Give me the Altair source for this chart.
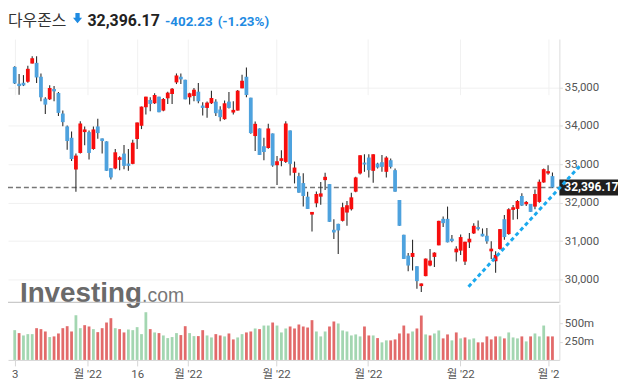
import altair as alt
import pandas as pd

# ---------------- data ----------------
opens = [35535,35096,35121,35147,35621,35639,35277,34708,34690,34958,
         34854,34320,33984,33690,32863,33294,33837,33837,33397,33984,
         33673,33596,32897,32889,33113,33277,33018,33010,33656,34001,
         34484,34673,34587,34759,34397,34716,34828,35130,35277,35199,
         34742,34777,34889,34527,34466,34587,34630,34423,34173,34630,
         34346,34397,34975,35277,34733,33734,33932,33466,33423,33802,
         32975,33087,33061,33880,32777,32691,32510,32156,31690,31984,
         32156,32587,32484,31294,31449,31527,31743,31829,32286,32760,
         33044,33174,32829,33019,33053,32803,33105,32846,32070,31165,
         30622,30588,30346,29829,30088,30364,30588,30889,31579,31579,
         31062,30708,30751,30467,30967,31200,31364,31191,31139,30734,
         30476,30795,31570,31183,31812,31838,32174,31958,31967,31898,
         32019,32527,32760,32691]
highs = [35550,35346,35320,35561,35811,35811,35363,34742,35053,35035,
         34880,34397,34009,33854,33277,34122,33984,33880,33984,34182,
         33673,33596,32897,33398,33208,33501,33398,33639,34087,34501,
         34759,34742,34846,34759,34725,34889,34984,35363,35363,35199,
         34863,34984,35113,34613,34630,34915,34690,34509,34656,34880,
         34639,34932,35328,35518,34733,34113,33932,33690,34053,33802,
         33216,33363,34122,33880,33070,32777,32768,32285,31759,32294,
         32535,32777,32484,31570,31449,32001,32045,32260,32674,33234,
         33260,33260,33260,33036,33243,33208,33148,32889,32070,31165,
         30691,31036,30346,29898,30545,30795,30708,31527,31639,31898,
         31157,30864,31174,30984,31208,31467,31536,31329,31338,30993,
         30734,31312,31682,31855,31941,32070,32243,32044,31967,32346,
         32605,32889,32975,32786]
lows = [35090,34811,35035,35121,35621,35113,34639,34311,34673,34639,
        34259,33992,33380,33087,32286,33277,33492,33121,33380,33665,
        33277,32829,32604,32872,32846,32872,32829,33001,33398,33915,
        34294,34380,34570,34354,34380,34570,34570,35087,35087,34690,
        34553,34639,34587,34268,34208,34570,34259,34122,34156,34449,
        34294,34397,34975,34742,33794,33346,33242,33104,33406,32932,
        32458,32949,33035,32707,32501,32260,31898,31837,31251,31880,
        31949,32328,31501,31053,30665,31510,31398,31795,32269,32734,
        32803,32657,32519,32889,32803,32657,32889,32286,31398,30536,
        30217,30234,29760,29674,30088,30346,30329,30889,31364,30967,
        30967,30467,30639,30381,30820,31183,31277,31122,30933,30536,
        30174,30778,31036,31165,31553,31570,31915,31915,31760,31829,
        32001,32519,32726,32380]
closes = [35104,35035,35052,35484,35759,35259,34742,34552,34984,34897,
          34337,34096,33604,33139,33225,34061,33906,33294,33906,33811,
          33604,32829,32656,33311,33182,32958,32958,33561,34087,34501,
          34759,34570,34802,34354,34699,34863,34966,35311,35208,34690,
          34846,34940,34639,34466,34604,34725,34328,34225,34587,34466,
          34415,34915,35173,34802,33811,34052,33242,33320,33932,32966,
          33078,33156,34061,33010,32914,32260,32173,31837,31759,32225,
          32242,32673,31501,31225,31277,31881,31933,32139,32657,33234,
          32993,32846,33260,32915,32932,33174,32932,32286,31398,30536,
          30364,30691,29958,29898,30545,30493,30700,31527,31467,30967,
          31001,30803,31105,30984,31062,31398,31312,31122,30993,30803,
          30640,31312,31105,31829,31881,32044,31924,32019,31760,32226,
          32544,32872,32820,32396.17]
# volume in millions, and its colour flag (u = green, d = red)
volumes = [405,365,333,351,351,432,419,387,311,320,
           360,432,459,387,608,432,473,455,419,378,
           432,509,568,432,419,374,414,405,446,351,
           649,419,374,365,333,297,311,365,338,459,
           365,324,324,405,333,306,351,333,320,360,
           279,306,351,374,387,428,419,468,468,509,
           468,374,428,455,428,482,455,441,541,387,
           320,387,455,523,496,401,387,333,347,320,
           455,333,333,297,239,266,266,279,360,468,
           360,387,428,604,347,333,360,401,293,347,
           266,374,293,306,279,293,239,239,320,279,
           320,320,293,374,306,293,320,252,320,360,
           320,468,320,320]
vol_dir = list("uduuudddud" "dddduuddud" "dddudduuuu" "ududuuuudd"
               "uudduuddud" "duudduduud" "uuuddddddu" "uudduuuuuu"
               "dduduudddd" "dudduduudd" "ududuudddd" "duduuududu" "uudd")

tick_pos = [0, 16.6, 28, 39.6, 59.8, 80.8, 101.9, 122]
tick_text = ["3", "월 '22", "16", "월 '22", "월 '22", "월 '22", "월 '22", "월 '2"]
price_ticks = [30000, 31000, 32000, 33000, 34000, 35000]
vol_ticks = [250, 500]
trend_x = [103.8, 129.2]
trend_y = [29812, 32949]

name = "다우존스"
last_close = 32396.17
change = -402.23
change_pct = -1.23

# ---------------- layout / style ----------------
W = 555
H = 323
PRICE_PX = 265
VOL_TOP = 267
x_domain = [-0.4, 123.45]
price_domain = [29407, 36259]
vol_domain = [0, 757]
BOX_HALF = 8 * (price_domain[1] - price_domain[0]) / PRICE_PX

RED = "#f70d0d"
BLUE = "#4ea2de"
VGREEN = "#a3d6b1"
VRED = "#e26a6a"
TBLUE = "#1f8be2"
FONT = "Roboto"

df = pd.DataFrame({"i": list(range(len(closes))), "o": opens, "h": highs,
                   "l": lows, "c": closes, "v": volumes, "d": vol_dir})

label_expr = " : ".join(
    f'abs(datum.value - {v}) < 0.01 ? "{t}"' for v, t in zip(tick_pos, tick_text)
) + ' : ""'

x_scale = alt.Scale(domain=x_domain, nice=False, zero=False)
x_axis = alt.Axis(values=tick_pos, labelExpr=label_expr, grid=True,
                  gridColor="#f1f1f1", domainColor="#d6d6d6", tickColor="#d6d6d6",
                  tickSize=6, labelPadding=3, labelFont=f"{FONT}, 'Noto Sans CJK KR'",
                  labelFontSize=11.5, labelColor="#555555", title=None,
                  labelOverlap=False, labelFlush=False)
p_scale = alt.Scale(domain=price_domain, range=[PRICE_PX, 0], nice=False, zero=False)
p_axis = alt.Axis(orient="right", values=price_ticks, format=",d", grid=True,
                  gridColor="#f1f1f1", domainColor="#dcdcdc", tickColor="#dcdcdc",
                  tickSize=3, labelPadding=2, labelFont=FONT, labelFontSize=11.5,
                  labelColor="#555555", title=None)
v_scale = alt.Scale(domain=vol_domain, range=[H, VOL_TOP], nice=False)
v_axis = alt.Axis(orient="right", values=vol_ticks, labelExpr="datum.value + 'm'",
                  grid=False, domainColor="#dcdcdc", tickColor="#dcdcdc",
                  tickSize=3, labelPadding=2, labelFont=FONT, labelFontSize=11.5,
                  labelColor="#555555", title=None)

X = alt.X("i:Q", scale=x_scale, axis=x_axis)

one = pd.DataFrame([{"c": last_close}])

watermark1 = alt.Chart(one).mark_text(
    text="Investing", font="Liberation Sans", fontWeight="bold", fontSize=28,
    align="left", baseline="alphabetic", color="#6a6a6a"
).encode(x=alt.value(12), y=alt.value(PRICE_PX))
watermark2 = alt.Chart(one).mark_text(
    text=".com", font="Liberation Sans", fontSize=19.5,
    align="left", baseline="alphabetic", color="#777777"
).encode(x=alt.value(135), y=alt.value(PRICE_PX))

separator = alt.Chart(one).mark_rule(color="#bcbcbc", strokeWidth=1).encode(
    x=alt.value(0), x2=alt.value(W), y=alt.value(PRICE_PX))

dashed = alt.Chart(one).mark_rule(color="#777777", strokeWidth=1.5, strokeDash=[5, 3]).encode(
    x=alt.value(0), x2=alt.value(W), y=alt.Y("c:Q", scale=p_scale, axis=p_axis))

wicks = alt.Chart(df).mark_rule(color="#2e2e2e", strokeWidth=1.1).encode(
    x=X, y=alt.Y("l:Q", scale=p_scale, axis=p_axis), y2="h:Q")

bodies = alt.Chart(df).mark_bar(size=3.8).encode(
    x=X, y=alt.Y("o:Q", scale=p_scale, axis=p_axis), y2="c:Q",
    color=alt.condition("datum.c > datum.o", alt.value(RED), alt.value(BLUE)))

box = alt.Chart(one).transform_calculate(
    top=f"datum.c + {BOX_HALF}", bot=f"datum.c - {BOX_HALF}"
).mark_rect(color="#1f1f1f").encode(
    x=alt.value(W), x2=alt.value(W + 59),
    y=alt.Y("top:Q", scale=p_scale, axis=p_axis), y2="bot:Q")

box_text = alt.Chart(one).mark_text(
    text=f"{last_close:,.2f}", color="white", font=FONT, fontWeight="bold",
    fontSize=12, align="left", baseline="middle"
).encode(x=alt.value(W + 5), y=alt.Y("c:Q", scale=p_scale, axis=p_axis))

trend_df = pd.DataFrame({"tx": trend_x, "ty": trend_y})
trend = alt.Chart(trend_df).mark_line(
    color="#1ba9ee", strokeWidth=3, strokeDash=[4, 3], clip=False
).encode(x=alt.X("tx:Q", scale=x_scale, axis=x_axis),
         y=alt.Y("ty:Q", scale=p_scale, axis=p_axis))

title_name = alt.Chart(one).mark_text(
    text=name, font="Noto Sans CJK KR", fontSize=16, color="#333333",
    align="left", baseline="alphabetic"
).encode(x=alt.value(0), y=alt.value(-13))
arrow = alt.Chart(one).mark_point(
    shape="M-0.42,-1 L0.42,-1 L0.42,-0.1 L0.9,-0.1 L0,1 L-0.9,-0.1 L-0.42,-0.1 Z",
    filled=True, size=105, color=TBLUE, opacity=1, strokeWidth=0
).encode(x=alt.value(70), y=alt.value(-21))
title_price = alt.Chart(one).mark_text(
    text=f"{last_close:,.2f}", font=FONT, fontWeight="bold", fontSize=16,
    color="#222222", align="left", baseline="alphabetic"
).encode(x=alt.value(80), y=alt.value(-13))
title_chg = alt.Chart(one).mark_text(
    text=f"{change:.2f}", font=FONT, fontWeight="bold", fontSize=13.5,
    color=TBLUE, align="left", baseline="alphabetic"
).encode(x=alt.value(158), y=alt.value(-13))
title_pct = alt.Chart(one).mark_text(
    text=f"({change_pct:.2f}%)", font=FONT, fontWeight="bold", fontSize=13.5,
    color=TBLUE, align="left", baseline="alphabetic"
).encode(x=alt.value(211), y=alt.value(-13))

price_layer = alt.layer(watermark1, watermark2, separator, dashed, wicks, bodies,
                        box, box_text, trend, title_name, arrow, title_price,
                        title_chg, title_pct)

vol_layer = alt.Chart(df).mark_bar(size=2.8).encode(
    x=X, y=alt.Y("v:Q", scale=v_scale, axis=v_axis),
    color=alt.condition("datum.d == 'u'", alt.value(VGREEN), alt.value(VRED)))

chart = alt.layer(vol_layer, price_layer).resolve_scale(y="independent").properties(
    width=W, height=H,
    autosize=alt.AutoSizeParams(type="none"),
    padding={"top": 30, "left": 0, "right": 59, "bottom": 23},
).configure_view(stroke=None)

chart.save("out.html", embed_options={"renderer": "svg", "actions": False})
